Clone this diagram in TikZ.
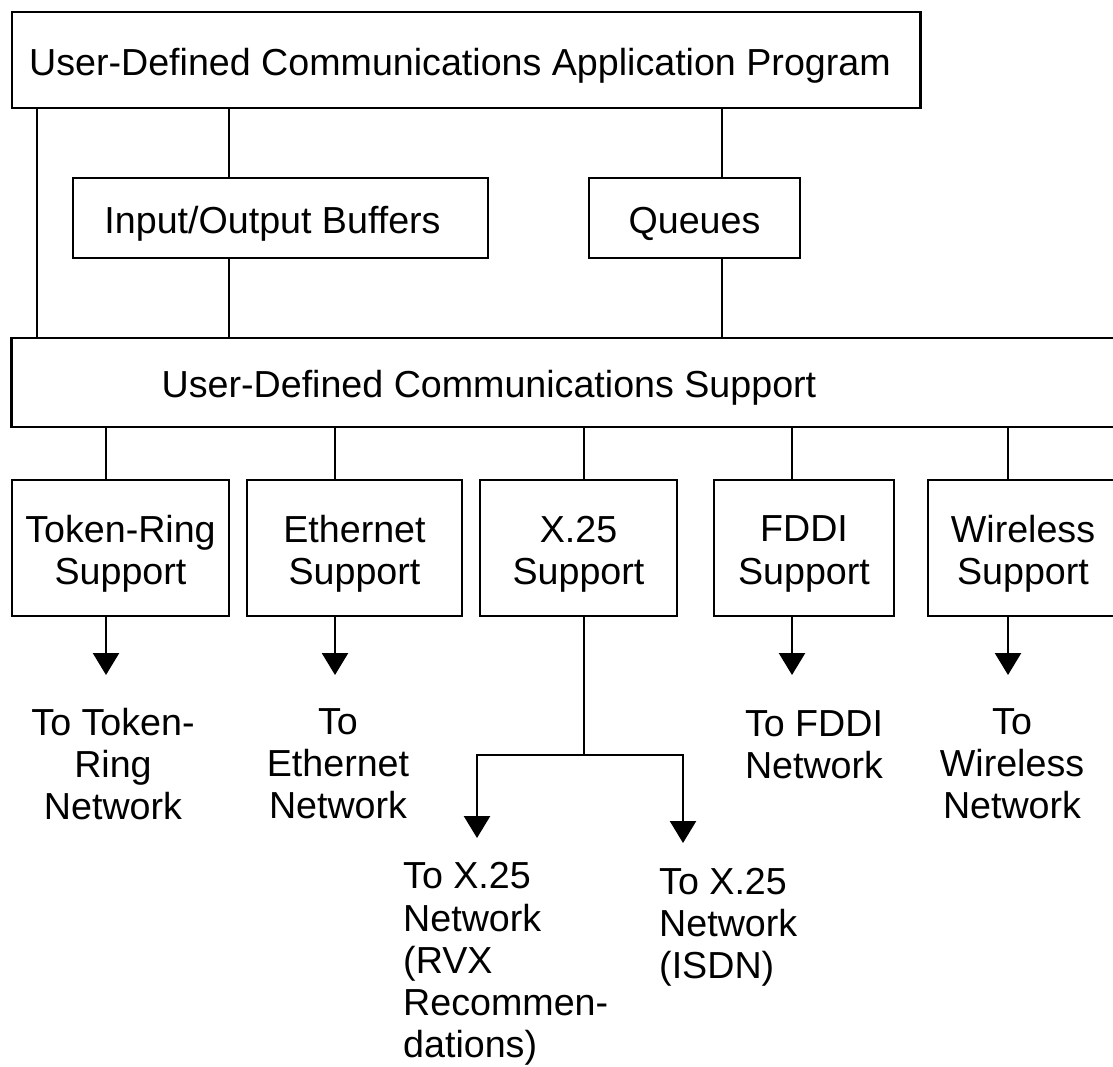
\documentclass[tikz,border=0pt]{standalone}
\usepackage{fontspec}
\setmainfont{Liberation Sans}
\usetikzlibrary{arrows.meta, positioning}

\begin{document}
\begin{tikzpicture}[x=0.01cm, y=-0.01cm, line width=0.7pt,
  font=\fontsize{10.7}{12}\selectfont,
  box/.style={rectangle, draw, inner sep=0pt},
  boxtxt/.style={inner sep=0pt, align=center, yshift=-0.6mm},
  arr/.style={-{Triangle[width=2.6mm, length=2.2mm]}},
  lbl/.style={inner sep=0pt, align=center}]
\useasboundingbox (0,0) rectangle (1113,1066);
\clip (0,0) rectangle (1113,1066);

% Boxes
\node[box, minimum width=9.08cm, minimum height=0.96cm] (app) at (466,60) {};
\node[box, minimum width=4.15cm, minimum height=0.8cm] (io) at (280.5,218) {};
\node[box, minimum width=2.11cm, minimum height=0.8cm] (queues) at (694.5,218) {};
\node[box, minimum width=11.2cm, minimum height=0.89cm] (support) at (572,382.5) {};

\node[box, minimum width=2.17cm, minimum height=1.36cm] (tr) at (120.5,548) {};
\node[box, minimum width=2.15cm, minimum height=1.36cm] (eth) at (354.5,548) {};
\node[box, minimum width=1.97cm, minimum height=1.36cm] (x25) at (578.5,548) {};
\node[box, minimum width=1.80cm, minimum height=1.36cm] (fddi) at (804,548) {};
\node[box, minimum width=1.90cm, minimum height=1.36cm] (wl) at (1023,548) {};

% Text
\node[boxtxt, xshift=-0.6mm] (apptxt) at (app.center) {User-Defined Communications Application Program};
\node[boxtxt, xshift=-0.8mm] (iotxt) at (io.center) {Input/Output Buffers};
\node[boxtxt] (queuestxt) at (queues.center) {Queues};
\node[boxtxt] (supporttxt) at (489,382) {User-Defined Communications Support};

\node[boxtxt] (trtxt) at (tr.center) {Token-Ring\\Support};
\node[boxtxt] (ethtxt) at (eth.center) {Ethernet\\Support};
\node[boxtxt] (x25txt) at (x25.center) {X.25\\Support};
\node[boxtxt] (fdditxt) at (fddi.center) {FDDI\\Support};
\node[boxtxt] (wltxt) at (wl.center) {Wireless\\Support};

\node[lbl] (trl) at (113,764) {To Token-\\Ring\\Network};
\node[lbl] (ethl) at (338,764) {To\\Ethernet\\Network};
\node[lbl] (fddil) at (814,745) {To FDDI\\Network};
\node[lbl] (wll) at (1012,764) {To\\Wireless\\Network};
\node[lbl, align=left, anchor=west] (rvxl) at (402,964) {To X.25\\Network\\(RVX\\Recommen-\\dations)};
\node[lbl, align=left, anchor=west] (isdnl) at (658,927) {To X.25\\Network\\(ISDN)};

% Connectors
\foreach \n/\x in {a/37, b/229, c/722, d/106, e/335, f/584, g/792, h/1008}
  \coordinate (col\n) at (\x,0);
\coordinate (ttr) at (106,675);
\coordinate (teth) at (335,675);
\coordinate (tfddi) at (792,675);
\coordinate (twl) at (1008,675);
\coordinate (split) at (584,755);
\coordinate (trvx) at (477,838);
\coordinate (tisdn) at (683,843);

\draw (app.south -| cola) -- (support.north -| cola);
\draw (app.south -| colb) -- (io.north -| colb);
\draw (io.south -| colb) -- (support.north -| colb);
\draw (app.south -| colc) -- (queues.north -| colc);
\draw (queues.south -| colc) -- (support.north -| colc);

\foreach \b/\c in {tr/d, eth/e, x25/f, fddi/g, wl/h}
  \draw (support.south -| col\c) -- (\b.north -| col\c);

\foreach \b/\c in {tr/d, eth/e, fddi/g, wl/h}
  \draw[arr] (\b.south -| col\c) -- (t\b);

\draw (x25.south -| colf) -- (split);
\draw[arr] (split) -| (trvx);
\draw[arr] (split) -| (tisdn);
\end{tikzpicture}
\end{document}
